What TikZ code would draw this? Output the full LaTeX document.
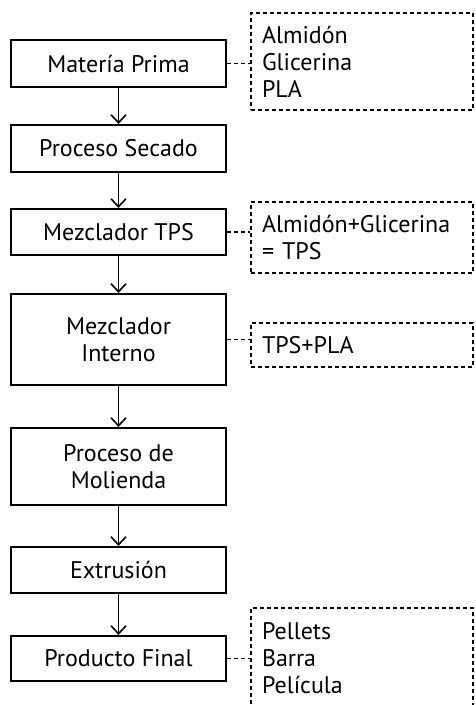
\documentclass[tikz,border=0pt]{standalone}
\usepackage{fontspec}
\setmainfont{PT Sans}
\usetikzlibrary{arrows.meta}
\begin{document}
\begin{tikzpicture}[x=1pt,y=-1pt,
  txt/.style={font=\fontsize{24}{27}\selectfont},
  proc/.style={txt, draw, line width=2.2pt, minimum width=215pt, inner sep=0pt, align=center},
  note/.style={txt, draw, line width=1.5pt, dash pattern=on 4pt off 3pt, minimum width=222pt, text width=200pt, inner xsep=11pt, inner ysep=0pt, align=left},
  flow/.style={-{Straight Barb[length=8pt,width=15pt]}, line width=1.6pt},
  link/.style={line width=1.5pt, dash pattern=on 4pt off 3pt}]
\useasboundingbox (0,0) rectangle (475,705);
\node[proc, minimum height=47pt] (m1) at (118.5,63.5) {Matería Prima};
\node[proc, minimum height=47pt] (m2) at (118.5,148.5) {Proceso Secado};
\node[proc, minimum height=46pt] (m3) at (118.5,232) {Mezclador TPS};
\node[proc, minimum height=91pt] (m4) at (118.5,339.5) {Mezclador\\Interno};
\node[proc, minimum height=77pt] (m5) at (118.5,466.5) {Proceso de\\Molienda};
\node[proc, minimum height=46pt] (m6) at (118.5,570) {Extrusión};
\node[proc, minimum height=45pt] (m7) at (118.5,658.5) {Producto Final};
\node[note, minimum height=97pt] (d1) at (362,61.5) {Almidón\\Glicerina\\PLA};
\node[note, minimum height=71pt] (d2) at (362,237.5) {Almidón+Glicerina\\= TPS};
\node[note, minimum height=44pt] (d3) at (362,345) {TPS+PLA};
\node[note, minimum height=101pt] (d4) at (362,658.5) {Pellets\\Barra\\Película};
\draw[flow] (m1) -- (m2);
\draw[flow] (m2) -- (m3);
\draw[flow] (m3) -- (m4);
\draw[flow] (m4) -- (m5);
\draw[flow] (m5) -- (m6);
\draw[flow] (m6) -- (m7);
\draw[link] (m1.east) -- (m1.east -| d1.west);
\draw[link] (m3.east) -- (m3.east -| d2.west);
\draw[link] (m4.east) -- (m4.east -| d3.west);
\draw[link] (m7.east) -- (m7.east -| d4.west);
\end{tikzpicture}
\end{document}
